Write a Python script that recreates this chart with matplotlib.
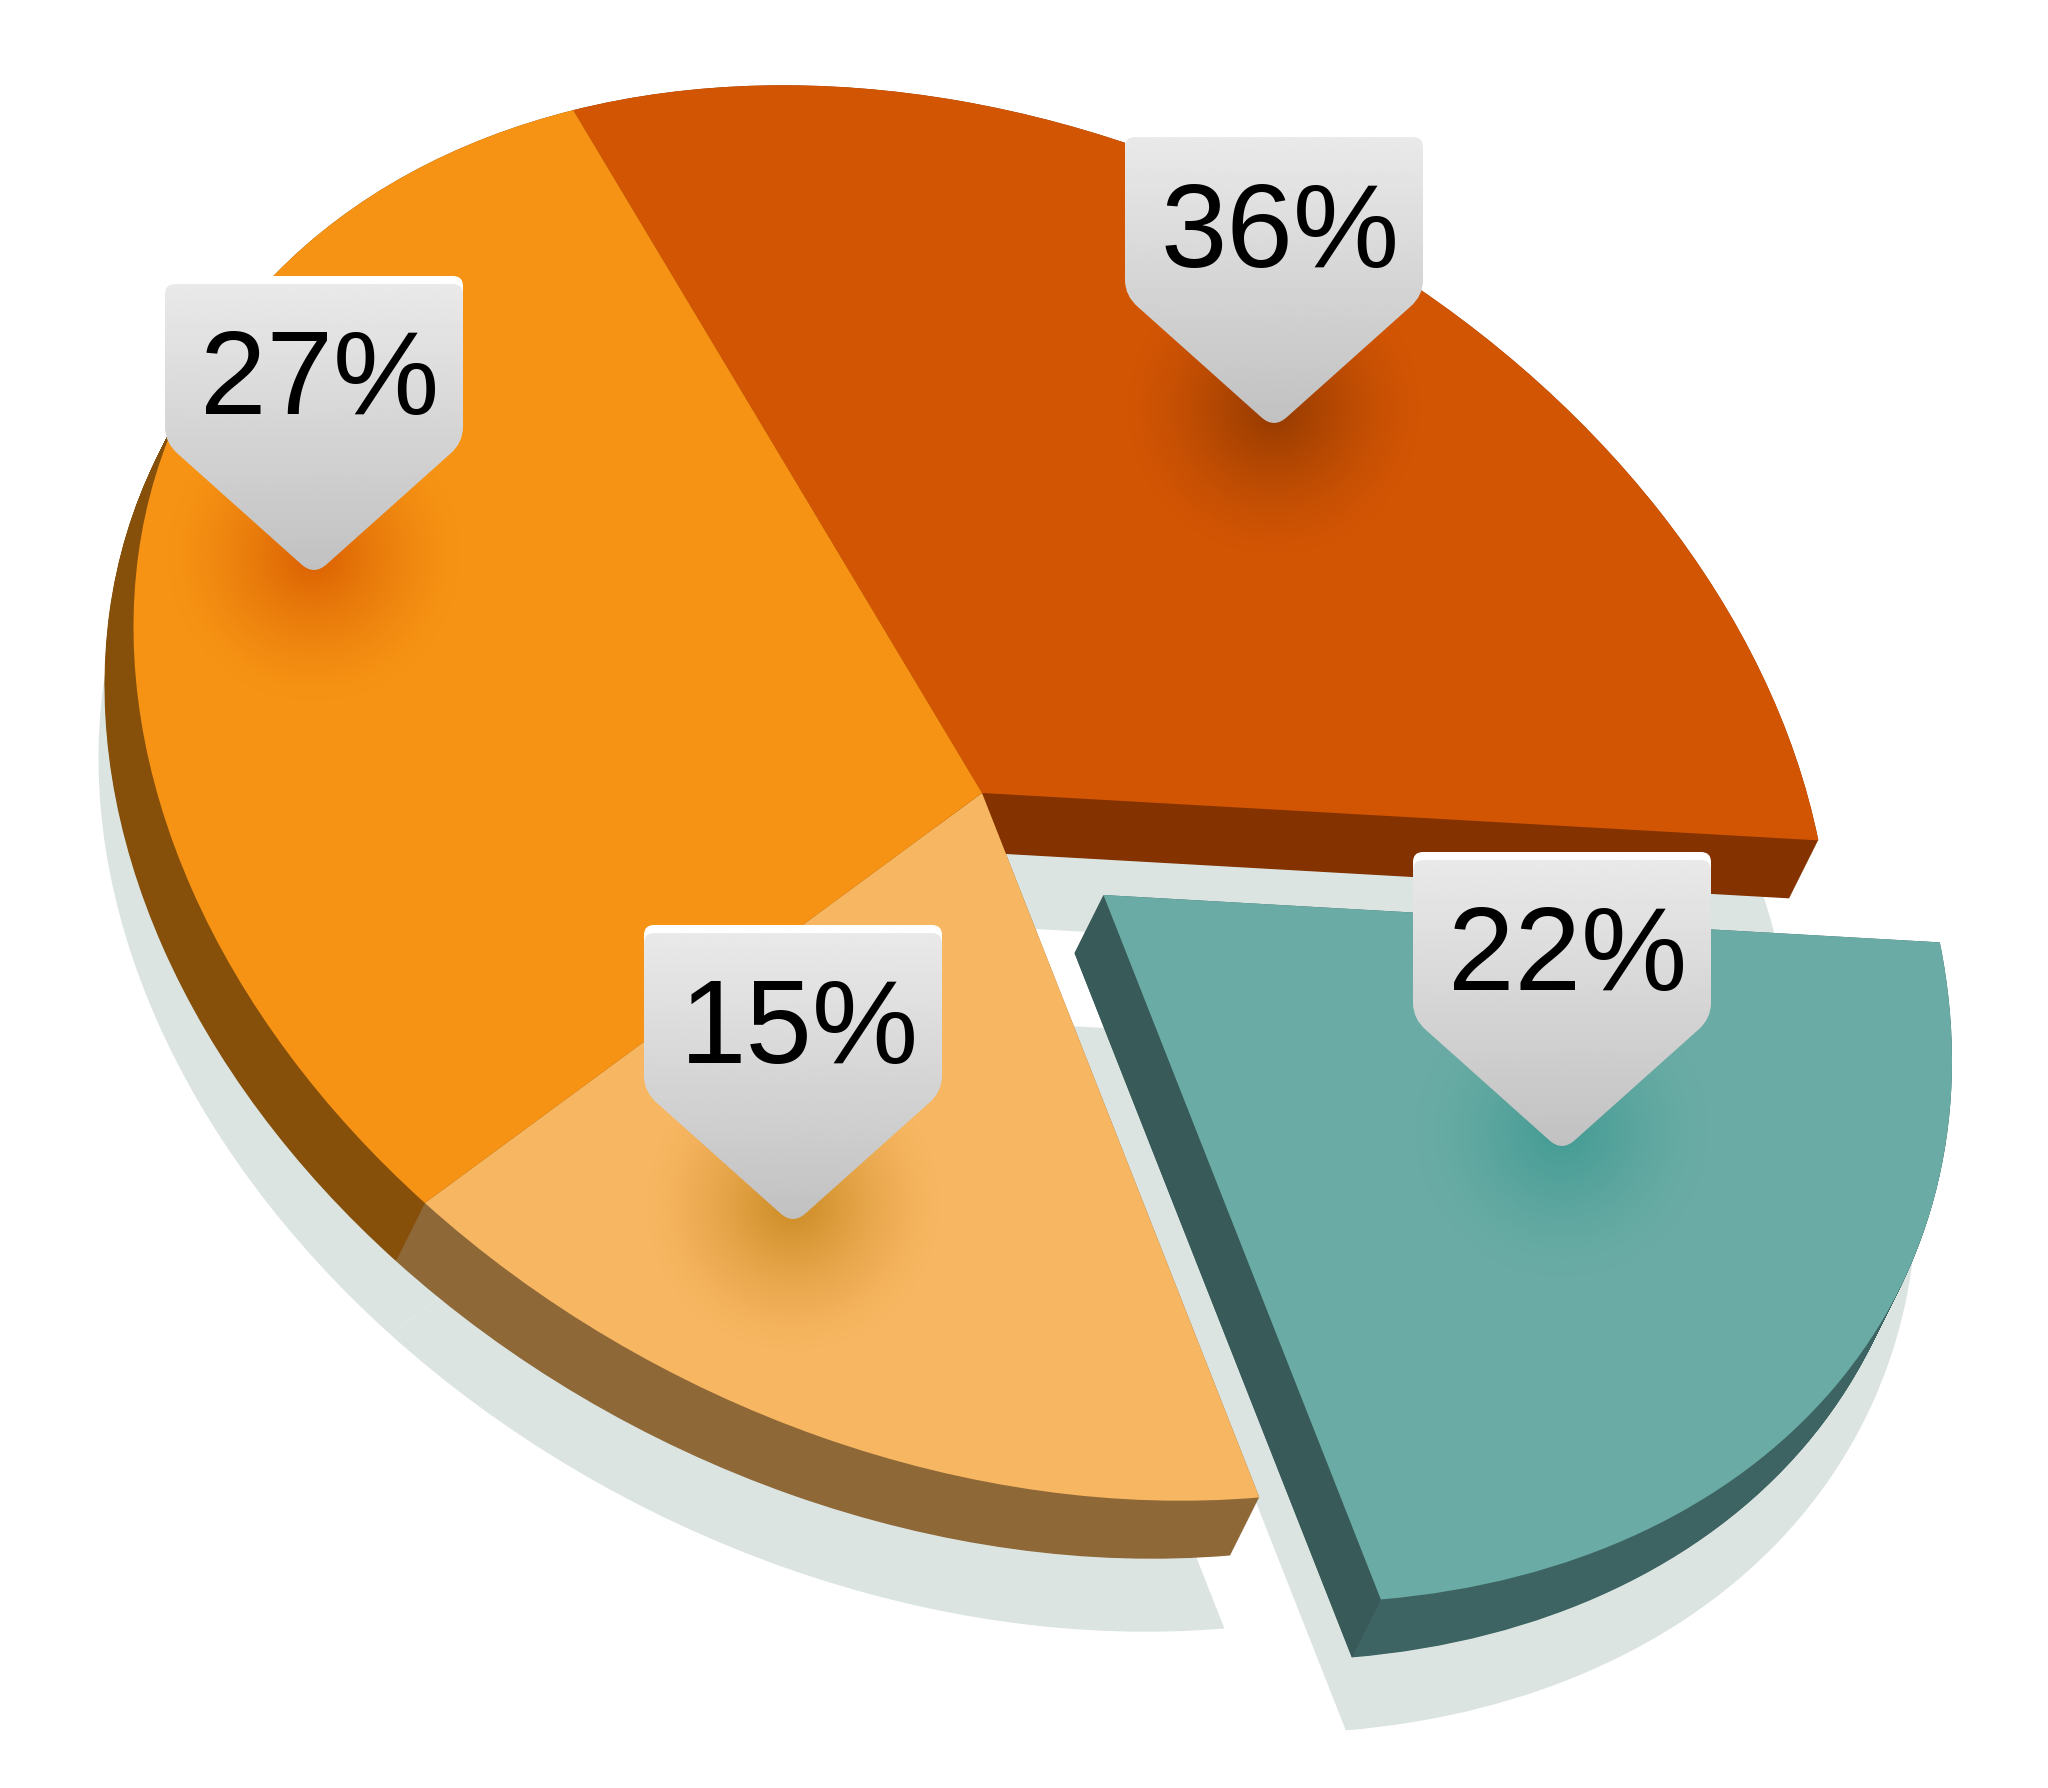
import numpy as np
import matplotlib
matplotlib.use('Agg')
import matplotlib.pyplot as plt
from matplotlib.colors import to_rgb
from matplotlib.patches import PathPatch, Polygon, Wedge
from matplotlib.path import Path
from matplotlib.transforms import Affine2D

#printed labels, in drawing order (the arcs in the picture don't follow them exactly)
labels = ['36%', '22%', '15%', '27%']
#share of the ellipse each slice really takes up
arc_shares = [30.3, 22.4, 16.7, 30.6]
start_angle = -118.8

top_cols = ['#d25504', '#6aaca5', '#f7b661', '#f69314']
wall_cols = ['#843200', '#3d6462', '#8f6838', '#86500a']
glow_cols = ['#8f3800', '#3f9a92', '#c88820', '#d85c00']
shadow_col = '#dbe4e1'
teal_side_col = '#385a59'

#tip of each callout, pixels
tips = [(1274, 423), (1562, 1146), (793, 1219), (314, 570)]

W, H = 2048, 1788
#unit circle to pixels, y pointing down
tilt = np.array([[848.5, 0.0, 982.0], [165.9, 688.0, 793.0], [0, 0, 1]])
wall_off = (-29, 58)
shadow_off = (-35, 131)
teal_off = (121.5, 102)

fig = plt.figure(figsize=(W / 100, H / 100), dpi=100)
ax = fig.add_axes([0, 0, 1, 1])

wedges, _ = ax.pie(arc_shares, startangle=start_angle, radius=1, colors=top_cols)


def slice_trans(i, off=(0, 0)):
    """pixel transform for slice i, moved by off"""
    dx, dy = off
    if i == 1:
        dx, dy = dx + teal_off[0], dy + teal_off[1]
    return Affine2D(tilt).translate(dx, dy) + ax.transData


def unit_copy(w, col, trans, zorder):
    p = Wedge((0, 0), 1, w.theta1, w.theta2, facecolor=col, edgecolor='none', lw=0, zorder=zorder)
    p.set_transform(trans)
    ax.add_patch(p)
    return p


#shadow
for i, w in enumerate(wedges):
    unit_copy(w, shadow_col, slice_trans(i, shadow_off), 1)

#walls: sweep each slice down to the wall offset
for z, i in enumerate([3, 2, 0, 1]):
    for t in np.linspace(1, 0, 80):
        unit_copy(wedges[i], wall_cols[i], slice_trans(i, (wall_off[0] * t, wall_off[1] * t)), 2 + z * 0.1)

#flat side of the teal slice is a touch darker than its rim
th = np.deg2rad(wedges[1].theta2)
a = np.array([982.0 + teal_off[0], 793.0 + teal_off[1]])
c = (tilt @ [np.cos(th), np.sin(th), 1])[:2] + teal_off
ax.add_patch(Polygon([a, c, c + wall_off, a + wall_off], closed=True, fc=teal_side_col, ec='none', zorder=2.5))

#top faces
for i, w in enumerate(wedges):
    w.set_transform(slice_trans(i))
    w.set_edgecolor('none')
    w.set_zorder(3)


def callout_path(tx, ty, dy=0):
    codes = [Path.MOVETO, Path.LINETO, Path.CURVE3, Path.CURVE3, Path.LINETO, Path.CURVE3, Path.CURVE3,
             Path.LINETO, Path.CURVE3, Path.CURVE3, Path.LINETO, Path.CURVE3, Path.CURVE3, Path.LINETO,
             Path.CURVE3, Path.CURVE3, Path.CLOSEPOLY]
    v = [(-139, -286), (139, -286), (149, -286), (149, -276), (149, -143), (149, -127), (136, -116),
         (13, -6), (0, 6), (-13, -6), (-136, -116), (-149, -127), (-149, -143),
         (-149, -276), (-149, -286), (-139, -286), (-139, -286)]
    return Path([(tx + x, ty + y + dy) for x, y in v], codes)


grad = np.linspace(0.915, 0.755, 256).reshape(-1, 1)
yy, xx = np.mgrid[-1:1:300j, -1:1:300j]
rr = np.clip(np.hypot(xx, yy), 0, 1)

for i, (tx, ty) in enumerate(tips):
    #soft dark patch under the tip
    rgba = np.zeros((300, 300, 4))
    rgba[..., :3] = to_rgb(glow_cols[i])
    rgba[..., 3] = 0.95 * (1 - rr) ** 1.45
    ax.imshow(rgba, extent=(tx - 150, tx + 150, ty + 135, ty - 165), zorder=4, interpolation='bilinear')

    #white highlight along the top, then the grey body
    ax.add_patch(PathPatch(callout_path(tx, ty, dy=-8), fc='white', ec='none', zorder=5))
    body = PathPatch(callout_path(tx, ty), fc='none', ec='none', zorder=6)
    ax.add_patch(body)
    im = ax.imshow(grad, extent=(tx - 150, tx + 150, ty + 6, ty - 286), cmap='gray', vmin=0, vmax=1,
                   zorder=6, interpolation='bilinear')
    im.set_clip_path(body)

    ax.text(tx + 6, ty - 156, labels[i], family='Liberation Sans', fontsize=86, color='black',
            ha='center', va='baseline', zorder=7)

ax.set_aspect('auto')
ax.set_xlim(0, W)
ax.set_ylim(H, 0)
ax.axis('off')

plt.savefig('out.png', dpi=100, facecolor='white')
